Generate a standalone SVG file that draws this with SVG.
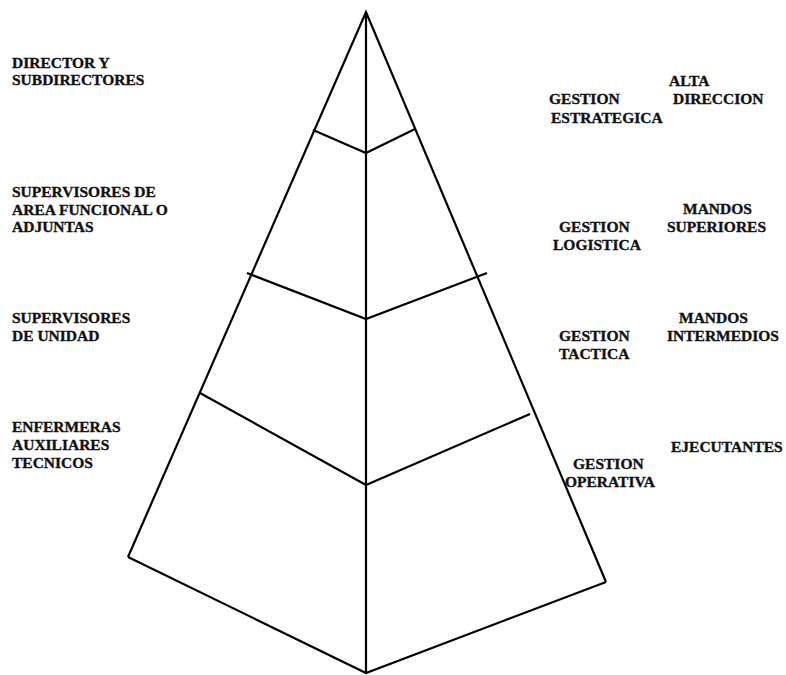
<svg xmlns="http://www.w3.org/2000/svg" width="786" height="675" viewBox="0 0 786 675">
<style>
.t{font-family:"Liberation Serif","Times New Roman",serif;font-weight:bold;font-size:15.5px;fill:#111;stroke:#111;stroke-width:0.35}
.l{stroke:#000;stroke-width:2.2;fill:none;stroke-linejoin:miter}
</style>
<rect width="786" height="675" fill="#fff"/>
<g id="pyramid">
<polyline class="l" points="128,557 366,12 606,582"/>
<polyline class="l" points="128,557 366,673 606,582"/>
<line class="l" x1="366" y1="12" x2="366" y2="673"/>
<polyline class="l" points="313,130 366,153 415,129"/>
<polyline class="l" points="247,273 366,319 487,273"/>
<polyline class="l" points="200,393 366,485 530,414"/>
</g>
<g id="left-labels">
<text class="t" x="12" y="68">DIRECTOR Y</text>
<text class="t" x="12" y="85">SUBDIRECTORES</text>
<text class="t" x="12" y="197">SUPERVISORES DE</text>
<text class="t" x="12" y="215">AREA FUNCIONAL O</text>
<text class="t" x="12" y="232">ADJUNTAS</text>
<text class="t" x="12" y="323">SUPERVISORES</text>
<text class="t" x="12" y="341">DE UNIDAD</text>
<text class="t" x="12" y="432">ENFERMERAS</text>
<text class="t" x="12" y="450">AUXILIARES</text>
<text class="t" x="12" y="468">TECNICOS</text>
</g>
<g id="right-labels">
<text class="t" x="669" y="86">ALTA</text>
<text class="t" x="673" y="104">DIRECCION</text>
<text class="t" x="549" y="104">GESTION</text>
<text class="t" x="551" y="123">ESTRATEGICA</text>
<text class="t" x="683" y="214">MANDOS</text>
<text class="t" x="667" y="232">SUPERIORES</text>
<text class="t" x="559" y="232">GESTION</text>
<text class="t" x="553" y="250">LOGISTICA</text>
<text class="t" x="679" y="323">MANDOS</text>
<text class="t" x="667" y="341">INTERMEDIOS</text>
<text class="t" x="559" y="341">GESTION</text>
<text class="t" x="559" y="359">TACTICA</text>
<text class="t" x="671" y="452">EJECUTANTES</text>
<text class="t" x="573" y="469">GESTION</text>
<text class="t" x="565" y="487">OPERATIVA</text>
</g>
</svg>
